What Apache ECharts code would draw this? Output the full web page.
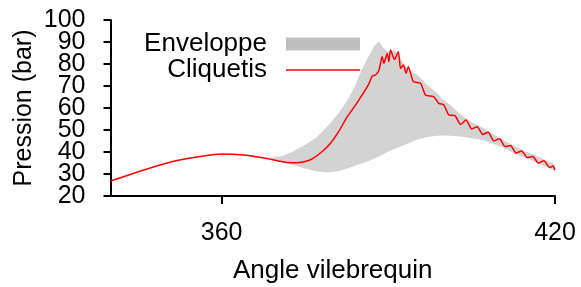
<!DOCTYPE html>
<html>
<head>
<meta charset="utf-8">
<script src="https://cdn.jsdelivr.net/npm/echarts@6/dist/echarts.min.js"></script>
<style>
html,body{margin:0;padding:0;background:#fff;}
#main{width:581px;height:287px;}
</style>
</head>
<body>
<div id="main"></div>
<script>
// enveloppe (min / max) sur un meme jeu d'angles
const envAngle = [340,345,350,355,360,364,367,369,371,373,375,377,379,381,383,384,385,386,386.8,387.4,388.3,388.9,389.8,391,392.2,393.4,395.2,397,398.8,400,401.2,403,405,407,409,411,413,415,417,419,420];
const envUpper = [26.8,31.2,35,37.7,39.3,39,37.8,37.5,38.2,40.5,43.3,46.5,51.5,57.5,65,70,76,81.5,85,88,90.2,88,85.6,86.4,82.6,78,75,70.5,66.7,63.5,61.4,57,53.5,51,47.8,45,42.3,40,38,35.5,34.5];
const envLower = [26.8,31,34.8,37.5,39.1,38.6,37.1,36.2,35.2,34,32.5,31.3,30.7,31.2,32.8,33.7,34.7,35.5,36.3,36.9,38,38.8,40,41.3,42.5,43.8,45.6,46.8,47.4,47.5,47.4,47,46.3,45.3,43.6,41.6,39,37,34.8,32.5,31.3];

// courbe avec cliquetis
const knockAngle = [340,345,351,357,360,364,368,371.5,373.6,376,378,379.6,381,382.6,384,385.5,386.5,387.1,387.7,388.3,388.9,389.2,389.8,390.1,390.4,391.1,391.8,392.2,392.7,393.2,393.6,394.5,395.8,396.7,398.2,399.1,400,400.9,402,403,404,405,406,407,408,409,410,411,412,413,414,415,416,417,418,419,419.6,420];
const knockValue = [26.8,31,35.6,38.3,39.1,38.6,37.1,35.3,35.1,36.5,40,44,49,56,61,66.8,71,74.5,75,77,83.4,80.3,84.8,81,86.4,82,85.6,78,79.5,75.8,78.8,72,71.2,65.9,65.1,62.1,61.4,56.8,56.5,52.5,54.5,50.5,51.5,48,49,45,46,42.5,43,39.5,40.5,37.5,38,35,36,33,33.6,31.8];

const xTicks = [360,420];
const yTicks = [20,30,40,50,60,70,80,90,100];
const yMin = 20, yMax = 100, yStep = 10;

const font = 'Liberation Sans, Arial, sans-serif';
const myChart = echarts.init(document.getElementById('main'));

let knockData = knockAngle.map(function(a,i){ return [a, knockValue[i]]; });
//les etiquettes se touchent : on les repartit sur deux axes superposes
let yLabelsEven = yTicks.filter(function(v,i){ return i%2===0; });
let yLabelsOdd = yTicks.filter(function(v,i){ return i%2===1; });

//polygone de l'enveloppe : haut puis bas a l'envers
function renderEnvelope(params, api){
	let pts = [];
	for(let i=0;i<envAngle.length;i++){
		pts.push(api.coord([envAngle[i], envUpper[i]]));
	}
	for(let i=envAngle.length-1;i>=0;i--){
		pts.push(api.coord([envAngle[i], envLower[i]]));
	}
	return {
		type:'polygon',
		shape:{points:pts},
		style:{fill:'#d3d3d3'}
	};
}

let yLabelStyle = {fontSize:25,color:'#000',margin:25,fontFamily:font,showMinLabel:true,showMaxLabel:true};

let option = {
	animation:false,
	textStyle:{fontFamily:font},
	grid:{left:110.5,right:26,top:20,bottom:91,outerBoundsMode:'none',containLabel:false},
	legend:{
		orient:'vertical',
		right:221,
		top:31,
		padding:0,
		itemGap:0,
		itemWidth:74,
		itemHeight:13,
		align:'right',
		textStyle:{fontSize:26,color:'#000',fontFamily:font,lineHeight:24,padding:[0,14,0,0]},
		data:[
			{name:'Enveloppe',icon:'rect',itemStyle:{color:'#bebebe'}},
			{name:'Cliquetis',icon:'path://M0,0M0,13M0,5.8L74,5.8L74,7.2L0,7.2Z',itemStyle:{color:'#ff0000'}}
		]
	},
	xAxis:{
		type:'value',
		min:340,
		max:420,
		name:'Angle vilebrequin',
		nameLocation:'middle',
		nameGap:62,
		nameTextStyle:{fontSize:26,color:'#000',fontFamily:font},
		splitLine:{show:false},
		axisLine:{show:true,lineStyle:{color:'#000',width:2}},
		axisTick:{show:true,length:8,lineStyle:{color:'#000',width:2},customValues:xTicks},
		axisLabel:{fontSize:25,color:'#000',margin:25,customValues:xTicks,fontFamily:font}
	},
	yAxis:[
		{
			type:'value',
			min:yMin,
			max:yMax,
			interval:yStep,
			name:'Pression (bar)',
			nameLocation:'middle',
			nameGap:74,
			nameMoveOverlap:false,
			nameTextStyle:{fontSize:25,color:'#000',fontFamily:font},
			splitLine:{show:false},
			axisLine:{show:true,lineStyle:{color:'#000',width:2}},
			axisTick:{show:true,length:7,lineStyle:{color:'#000',width:2},customValues:yTicks},
			axisLabel:Object.assign({customValues:yLabelsEven},yLabelStyle)
		},
		{
			type:'value',
			position:'left',
			offset:0,
			min:yMin,
			max:yMax,
			interval:yStep,
			splitLine:{show:false},
			axisLine:{show:false},
			axisTick:{show:false},
			axisLabel:Object.assign({customValues:yLabelsOdd},yLabelStyle)
		}
	],
	series:[
		{
			name:'Enveloppe',
			type:'custom',
			renderItem:renderEnvelope,
			itemStyle:{color:'#bebebe'},
			data:[[380,50]],
			z:1
		},
		{
			name:'Cliquetis',
			type:'line',
			symbol:'none',
			showSymbol:false,
			smooth:0.2,
			itemStyle:{color:'#ff0000'},
			lineStyle:{color:'#ff0000',width:1.5},
			data:knockData,
			z:3
		}
	]
};
myChart.setOption(option);
</script>
</body>
</html>
